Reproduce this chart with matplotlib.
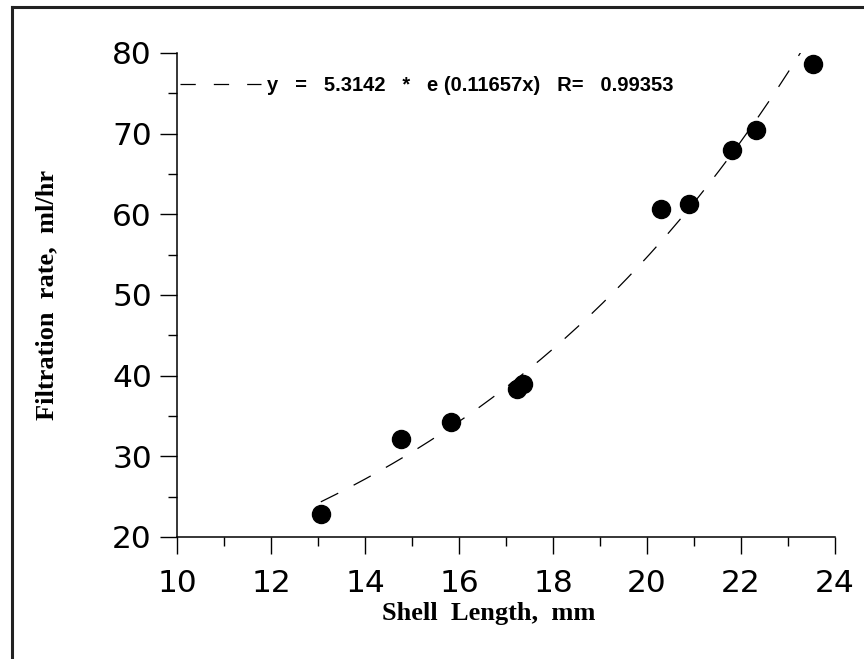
import numpy as np
import matplotlib
matplotlib.use("Agg")
import matplotlib.pyplot as plt
from matplotlib.lines import Line2D
from matplotlib.ticker import MultipleLocator

# ---- data ----
shell_length = [13.06, 14.76, 15.84, 17.24, 17.36, 20.29, 20.90, 21.80, 22.31, 23.53]
filtration = [22.9, 32.2, 34.2, 38.3, 39.0, 60.7, 61.3, 68.0, 70.4, 78.6]

# exponential fit printed on the chart
FIT_A = 5.3142
FIT_B = 0.11657
FIT_R = 0.99353

X_TICKS = [10, 12, 14, 16, 18, 20, 22, 24]
Y_TICKS = [20, 30, 40, 50, 60, 70, 80]

plt.rcParams['lines.scale_dashes'] = False

fig = plt.figure(figsize=(8.64, 6.59), dpi=100)
ax = fig.add_axes([177 / 864, 1 - 537 / 659, (835 - 177) / 864, (537 - 53) / 659])

# fitted curve
xf = np.linspace(min(shell_length), max(shell_length), 200)
yf = FIT_A * np.exp(FIT_B * xf)
label = f"y   =   {FIT_A}   *   e ({FIT_B}x)   R=   {FIT_R}"
ax.plot(xf, yf, color='black', lw=0.9, dashes=(14, 12.5), label=label, zorder=2)

ax.plot(shell_length, filtration, 'o', color='black', markersize=13, zorder=3)

ax.set_xlim(10, 24)
ax.set_ylim(20, 80)
ax.set_xticks(X_TICKS)
ax.set_yticks(Y_TICKS)
ax.xaxis.set_minor_locator(MultipleLocator(1))
ax.yaxis.set_minor_locator(MultipleLocator(5))

for s in ['top', 'right']:
    ax.spines[s].set_visible(False)
for s in ['left', 'bottom']:
    ax.spines[s].set_linewidth(1.1)

ax.tick_params(axis='both', which='major', direction='out', length=12, width=1.0,
               labelsize=22.5)
ax.tick_params(axis='both', which='minor', direction='out', length=6.5, width=1.0)
ax.tick_params(axis='x', which='major', pad=11)
ax.tick_params(axis='y', which='major', pad=6)

ax.set_xlabel("Shell  Length,  mm", fontfamily='Liberation Serif', fontweight='bold',
              fontsize=19)
ax.set_ylabel("Filtration  rate,  ml/hr", fontfamily='Liberation Serif', fontweight='bold',
              fontsize=19)
ax.xaxis.set_label_coords(0.474, -0.134)
ax.yaxis.set_label_coords(-0.18, 0.5)

leg = ax.legend(loc='center left', bbox_to_anchor=(0.005, 0.932), frameon=False,
                handlelength=4.0, handletextpad=0.3, borderaxespad=0, borderpad=0,
                prop={'family': 'Liberation Sans', 'weight': 'bold', 'size': 14.5})
# the key in the legend uses slightly shorter dashes than the curve
leg.get_lines()[0].set_dashes((11, 13))

# frame around the figure (only top and left survive in the scan)
fig.add_artist(Line2D([12 / 864, 12 / 864], [0, 1 - 6.5 / 659], color='#222222', lw=2.2,
                      transform=fig.transFigure))
fig.add_artist(Line2D([12 / 864, 1], [1 - 6.5 / 659, 1 - 6.5 / 659], color='#222222', lw=2.2,
                      transform=fig.transFigure))

fig.savefig("out.png", dpi=100)
